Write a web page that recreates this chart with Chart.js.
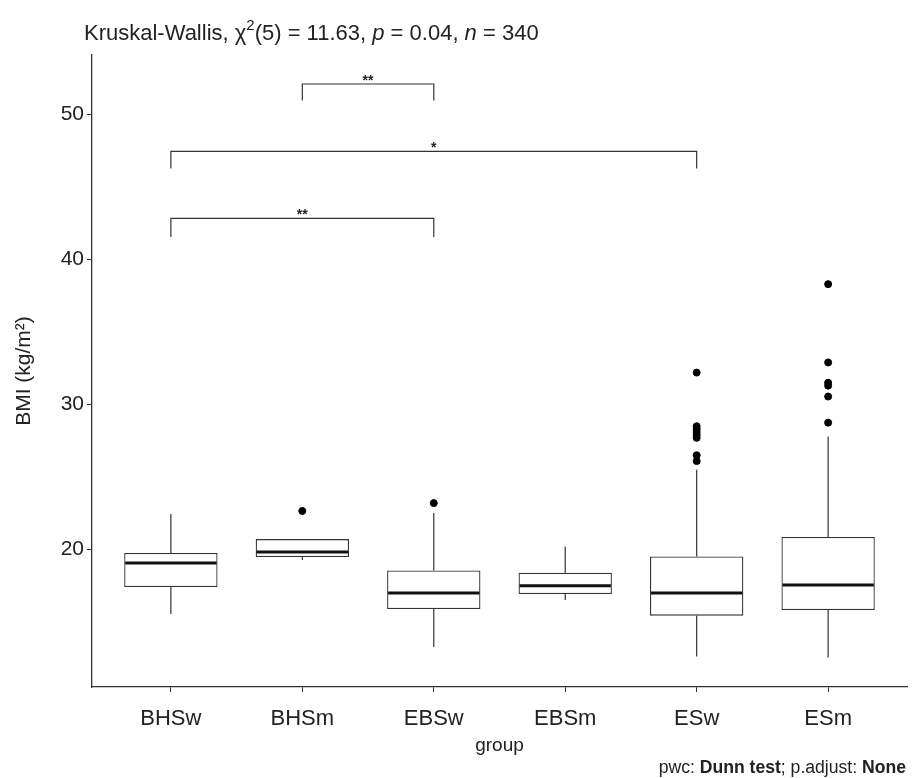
<!DOCTYPE html>
<html>
<head>
<meta charset="utf-8">
<script src="https://cdn.jsdelivr.net/npm/chart.js@4"></script>
<style>
  html, body { margin: 0; padding: 0; background: #fff; }
  #wrap { width: 912px; height: 778px; }
</style>
</head>
<body>
<div id="wrap"><canvas id="chart" width="912" height="778"></canvas></div>
<script>
// groups and box statistics
const groups = ['BHSw', 'BHSm', 'EBSw', 'EBSm', 'ESw', 'ESm'];
const q1 = [17.41, 19.48, 15.9, 16.93, 15.44, 15.83];
const median = [19.07, 19.83, 17.0, 17.5, 17.0, 17.55];
const q3 = [19.76, 20.72, 18.55, 18.4, 19.52, 20.86];
const whiskerLow = [15.55, 19.28, 13.28, 16.52, 12.62, 12.55];
const whiskerHigh = [22.45, 20.72, 22.52, 20.2, 25.5, 27.8];
const outliers = [
  [],
  [22.66],
  [23.2],
  [],
  [32.2, 28.5, 28.3, 28.1, 27.9, 27.7, 26.5, 26.1],
  [38.3, 32.9, 31.5, 31.3, 30.55, 28.75]
];
const yTicks = [20, 30, 40, 50];

// pairwise comparisons (Dunn test)
const bracketFrom = [1, 0, 0];
const bracketTo = [2, 4, 2];
const bracketY = [52.1, 47.45, 42.83];
const bracketTip = [50.97, 46.28, 41.55];
const bracketLabel = ['**', '*', '**'];

const FONT = '"Liberation Sans", Arial, sans-serif';
const INK = '#333';

const outlierPoints = [];
outliers.forEach((vals, i) => vals.forEach(v => outlierPoints.push({ x: i, y: v })));

// whiskers behind boxes, medians, brackets and texts on top
const boxExtras = {
  id: 'boxExtras',
  beforeDatasetsDraw(chart) {
    const { ctx, scales: { x, y } } = chart;
    ctx.save();
    ctx.strokeStyle = INK;
    ctx.lineWidth = 1.2;
    groups.forEach((g, i) => {
      const px = x.getPixelForValue(i);
      ctx.beginPath();
      ctx.moveTo(px, y.getPixelForValue(whiskerLow[i]));
      ctx.lineTo(px, y.getPixelForValue(q1[i]));
      ctx.moveTo(px, y.getPixelForValue(q3[i]));
      ctx.lineTo(px, y.getPixelForValue(whiskerHigh[i]));
      ctx.stroke();
    });
    ctx.restore();
  },
  afterDatasetsDraw(chart) {
    const { ctx, scales: { x, y } } = chart;
    const meta = chart.getDatasetMeta(0);
    ctx.save();
    ctx.strokeStyle = '#111';
    ctx.lineWidth = 3;
    meta.data.forEach((bar, i) => {
      const half = bar.width / 2;
      const py = y.getPixelForValue(median[i]);
      ctx.beginPath();
      ctx.moveTo(bar.x - half + 1, py);
      ctx.lineTo(bar.x + half - 1, py);
      ctx.stroke();
    });

    // brackets
    ctx.strokeStyle = INK;
    ctx.lineWidth = 1.2;
    ctx.fillStyle = '#222';
    ctx.font = 'bold 14px ' + FONT;
    ctx.textAlign = 'center';
    ctx.textBaseline = 'alphabetic';
    bracketLabel.forEach((lab, k) => {
      const x0 = x.getPixelForValue(bracketFrom[k]);
      const x1 = x.getPixelForValue(bracketTo[k]);
      const yl = y.getPixelForValue(bracketY[k]);
      const yt = y.getPixelForValue(bracketTip[k]);
      ctx.beginPath();
      ctx.moveTo(x0, yt);
      ctx.lineTo(x0, yl);
      ctx.lineTo(x1, yl);
      ctx.lineTo(x1, yt);
      ctx.stroke();
      ctx.fillText(lab, (x0 + x1) / 2, yl + 1);
    });
    ctx.restore();
  },
  afterDraw(chart) {
    const { ctx, chartArea } = chart;
    ctx.save();
    ctx.fillStyle = '#222';
    ctx.textBaseline = 'alphabetic';

    // title with superscript and italics
    let tx = 84;
    const ty = 40;
    const parts = [
      ['Kruskal-Wallis, \u03C7', '22px', 0],
      ['2', '15px', -10],
      ['(5) = 11.63, ', '22px', 0],
      ['p', 'italic 22px', 0],
      [' = 0.04, ', '22px', 0],
      ['n', 'italic 22px', 0],
      [' = 340', '22px', 0]
    ];
    ctx.textAlign = 'left';
    parts.forEach(([t, f, dy]) => {
      ctx.font = f + ' ' + FONT;
      ctx.fillText(t, tx, ty + dy);
      tx += ctx.measureText(t).width;
    });

    // y axis title
    ctx.save();
    ctx.translate(30, (chartArea.top + chartArea.bottom) / 2);
    ctx.rotate(-Math.PI / 2);
    ctx.textAlign = 'center';
    ctx.font = '21px ' + FONT;
    ctx.fillText('BMI (kg/m\u00B2)', 0, 0);
    ctx.restore();

    // x axis title
    ctx.textAlign = 'center';
    ctx.font = '19px ' + FONT;
    ctx.fillText('group', (chartArea.left + chartArea.right) / 2, 751);

    // caption, right aligned
    const cap = [['pwc: ', '17.6px'], ['Dunn test', 'bold 17.6px'], ['; p.adjust: ', '17.6px'], ['None', 'bold 17.6px']];
    let w = 0;
    cap.forEach(([t, f]) => { ctx.font = f + ' ' + FONT; w += ctx.measureText(t).width; });
    let cx = 906 - w;
    ctx.textAlign = 'left';
    cap.forEach(([t, f]) => {
      ctx.font = f + ' ' + FONT;
      ctx.fillText(t, cx, 773);
      cx += ctx.measureText(t).width;
    });
    ctx.restore();
  }
};

new Chart(document.getElementById('chart'), {
  type: 'bar',
  data: {
    datasets: [
      {
        type: 'bar',
        data: groups.map((g, i) => ({ x: i, y: [q1[i], q3[i]] })),
        backgroundColor: '#fff',
        borderColor: INK,
        borderWidth: 1.3,
        borderSkipped: false,
        categoryPercentage: 1,
        barPercentage: 0.71,
        order: 2
      },
      {
        type: 'scatter',
        data: outlierPoints,
        backgroundColor: '#000',
        borderColor: '#000',
        pointRadius: 3.5,
        order: 1
      }
    ]
  },
  options: {
    responsive: false,
    animation: false,
    layout: { padding: { left: 0, top: 55, right: 3, bottom: 0 } },
    plugins: { legend: { display: false }, tooltip: { enabled: false } },
    scales: {
      x: {
        type: 'linear',
        min: -0.6,
        max: 5.6,
        offset: false,
        afterBuildTicks: s => { s.ticks = groups.map((g, i) => ({ value: i })); },
        afterFit: s => { s.height = 91; },
        ticks: {
          callback: v => groups[v],
          color: '#222',
          font: { family: FONT, size: 22 },
          padding: 14,
          autoSkip: false,
          maxRotation: 0
        },
        grid: { offset: false, drawOnChartArea: false, drawTicks: true, tickLength: 5, color: INK, lineWidth: 1 },
        border: { display: true, color: INK, width: 1.3 }
      },
      y: {
        min: 10.52,
        max: 54.1,
        afterBuildTicks: s => { s.ticks = yTicks.map(v => ({ value: v })); },
        afterFit: s => { s.width = 92; },
        ticks: {
          color: '#222',
          font: { family: FONT, size: 21 },
          padding: 3
        },
        grid: { drawOnChartArea: false, drawTicks: true, tickLength: 5, color: INK, lineWidth: 1 },
        border: { display: true, color: INK, width: 1.3 }
      }
    }
  },
  plugins: [boxExtras]
});
</script>
</body>
</html>
